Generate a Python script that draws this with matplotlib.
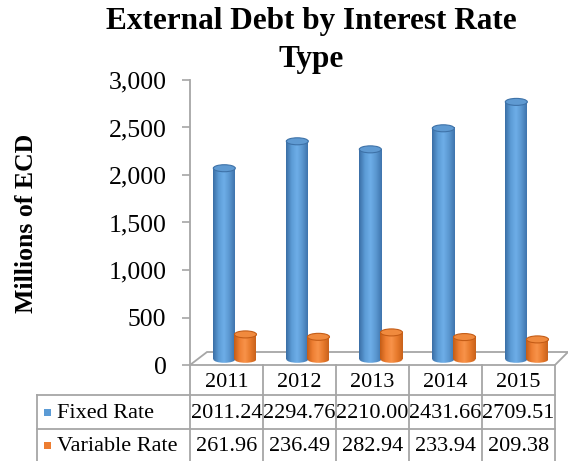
import matplotlib
matplotlib.use("Agg")
import matplotlib.pyplot as plt
import numpy as np
from matplotlib.patches import Ellipse, Polygon
from matplotlib.colors import LinearSegmentedColormap

plt.rcParams['font.family'] = ['Liberation Serif', 'DejaVu Serif']

years = ['2011', '2012', '2013', '2014', '2015']
fixed_rate = [2011.24, 2294.76, 2210.00, 2431.66, 2709.51]
variable_rate = [261.96, 236.49, 282.94, 233.94, 209.38]
series_names = ['Fixed Rate', 'Variable Rate']
y_ticks = [0, 500, 1000, 1500, 2000, 2500, 3000]

W, H = 568, 461
fig = plt.figure(figsize=(W / 100, H / 100), dpi=100)

# pixel-space overlay for the floor and the data table
bg = fig.add_axes([0, 0, 1, 1], zorder=0)
bg.set_xlim(0, W)
bg.set_ylim(H, 0)
bg.axis('off')

# plot area
x_left, x_right, y_zero, y_top = 190, 555, 365, 80
ax = fig.add_axes([x_left / W, 1 - y_zero / H, (x_right - x_left) / W, (y_zero - y_top) / H], zorder=1)
ax.patch.set_alpha(0)
ax.set_xlim(0, 5)
ax.set_ylim(0, 3000)

# 3D floor
floor = Polygon([(x_left, y_zero), (x_right, y_zero), (568, 352), (207, 352)],
                closed=True, facecolor='white', edgecolor='#a6a6a6', lw=1.3)
bg.add_patch(floor)

blue_cmap = LinearSegmentedColormap.from_list('b', ['#3a6ea5', '#5b9bd5', '#6eaee8', '#5a97d0', '#3f74ad'])
orange_cmap = LinearSegmentedColormap.from_list('o', ['#c45c16', '#ee7f33', '#f8934a', '#e77a2c', '#c9621b'])
grad = np.linspace(0, 1, 64).reshape(1, -1)

px_x = (x_right - x_left) / 5
px_y = (y_zero - y_top) / 3000
bar_w = 22 / px_x
cap_h = 7 / px_y
base = 60


def cylinder(xc, value, cmap, top_face, top_edge):
    x0, x1 = xc - bar_w / 2, xc + bar_w / 2
    y0, y1 = base, base + value
    bottom = Ellipse((xc, y0), bar_w, cap_h, facecolor='none', edgecolor='none')
    ax.add_patch(bottom)
    im = ax.imshow(grad, extent=(x0, x1, y0 - cap_h / 2, y0 + cap_h / 2), cmap=cmap,
                   aspect='auto', zorder=2, interpolation='bilinear')
    im.set_clip_path(bottom)
    ax.imshow(grad, extent=(x0, x1, y0, y1), cmap=cmap, aspect='auto', zorder=2,
              interpolation='bilinear')
    ax.add_patch(Ellipse((xc, y1), bar_w, cap_h, facecolor=top_face,
                         edgecolor=top_edge, lw=0.8, zorder=3))


for i in range(len(years)):
    cylinder(i + 0.47, fixed_rate[i], blue_cmap, '#5f9ad2', '#3e72a8')
    cylinder(i + 0.76, variable_rate[i], orange_cmap, '#f08a3e', '#c45c16')

ax.set_xlim(0, 5)
ax.set_ylim(0, 3000)
ax.set_xticks([])
ax.set_yticks(y_ticks)
ax.set_yticklabels([f'{v:,}' for v in y_ticks], fontsize=18.5)
ax.tick_params(axis='y', direction='out', length=6, color='#a6a6a6', width=1.2, pad=11)
for side in ['top', 'right', 'bottom']:
    ax.spines[side].set_visible(False)
ax.spines['left'].set_color('#a6a6a6')
ax.spines['left'].set_linewidth(1.3)

fig.text(311 / W, 1 - 22 / H, 'External Debt by Interest Rate', ha='center', va='center',
         fontsize=22.5, fontweight='bold')
fig.text(311 / W, 1 - 59 / H, 'Type', ha='center', va='center', fontsize=22.5, fontweight='bold')
fig.text(27 / W, 1 - 223 / H, 'Millions of ECD', ha='center', va='center', rotation=90,
         fontsize=18.5, fontweight='bold')

# data table
grid_c = '#a6a6a6'
col_edges = [x_left + px_x * k for k in range(6)]
rows = [365, 395, 429, 461]
for xe in col_edges:
    bg.plot([xe, xe], [rows[0], H], color=grid_c, lw=1.3)
bg.plot([37, 37], [rows[1], H], color=grid_c, lw=1.3)
for ye in rows[1:3]:
    bg.plot([37, x_right], [ye, ye], color=grid_c, lw=1.3)

for k, yr in enumerate(years):
    cx = (col_edges[k] + col_edges[k + 1]) / 2
    bg.text(cx, 382, yr, ha='center', va='center', fontsize=16)
    bg.text(cx, 413, f'{fixed_rate[k]:.2f}', ha='center', va='center', fontsize=16)
    bg.text(cx, 446, f'{variable_rate[k]:.2f}', ha='center', va='center', fontsize=16)

for name, color, yc in zip(series_names, ['#5b9bd5', '#ed7d31'], [413, 446]):
    bg.add_patch(plt.Rectangle((44, yc - 4), 7, 7, facecolor=color, edgecolor='none'))
    bg.text(57, yc, name, ha='left', va='center', fontsize=16)

fig.savefig('out.png', dpi=100)
